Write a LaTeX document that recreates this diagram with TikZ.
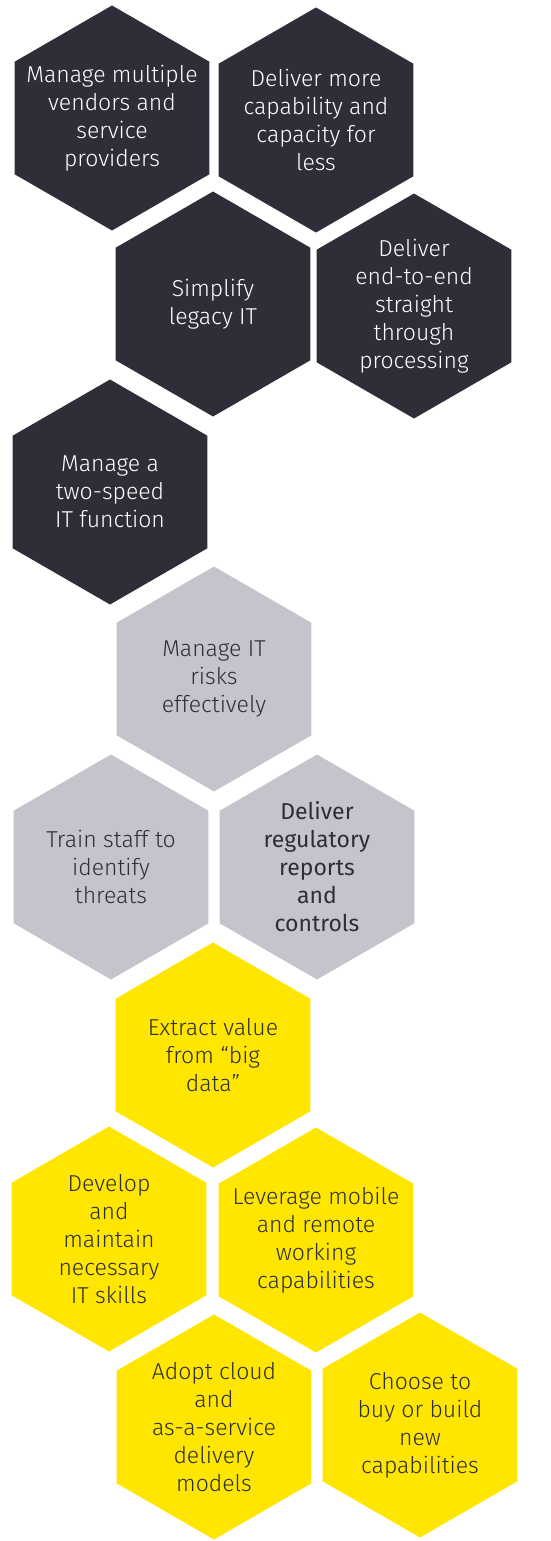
\documentclass[tikz,border=0pt]{standalone}
\usepackage{fontspec}
\setmainfont{Fira Sans}[UprightFont=* Light, BoldFont=*]
\usetikzlibrary{shapes.geometric}
\definecolor{eydark}{HTML}{2E2E38}
\definecolor{eygrey}{HTML}{C4C4CD}
\definecolor{eyyellow}{HTML}{FFE600}

\begin{document}
\begin{tikzpicture}[x=0.5pt,y=-0.5pt]
  \tikzset{
    hex/.style={regular polygon,regular polygon sides=6,shape border rotate=30,
      minimum size=112.5pt,inner sep=-18pt,align=center,
      font=\fontsize{11.5}{14}\selectfont},
    hexdark/.style={hex,fill=eydark,text=white},
    hexgrey/.style={hex,fill=eygrey,text=eydark},
    hexyellow/.style={hex,fill=eyyellow,text=eydark}
  }
    \useasboundingbox (0,0) rectangle (551,1541);

    %DARK
    \node[hexdark] (vendors) at (112,118) {Manage multiple\\vendors and\\service\\providers};
    \node[hexdark] (capacity) at (316,120) {Deliver more\\capability and\\capacity for\\less};
    \node[hexdark] (legacy) at (213,304) {Simplify\\legacy IT};
    \node[hexdark] (stp) at (414,306) {Deliver\\end-to-end\\straight\\through\\processing};
    \node[hexdark] (twospeed) at (110,492) {Manage a\\two-speed\\IT function};

    %GREY
    \node[hexgrey] (risks) at (214,679) {Manage IT\\risks\\effectively};
    \node[hexgrey] (train) at (111,867) {Train staff to\\identify\\threats};
    \node[hexgrey,font=\fontsize{11.5}{14}\selectfont\bfseries] (regulatory) at (317,867) {Deliver\\regulatory\\reports\\and\\controls};

    %YELLOW
    \node[hexyellow] (bigdata) at (213,1055) {Extract value\\from “big\\data”};
    \node[hexyellow] (skills) at (109,1239) {Develop\\and\\maintain\\necessary\\IT skills};
    \node[hexyellow] (mobile) at (316,1240) {Leverage mobile\\and remote\\working\\capabilities};
    \node[hexyellow] (cloud) at (214,1427) {Adopt cloud\\and\\as-a-service\\delivery\\models};
    \node[hexyellow] (buybuild) at (420,1425) {Choose to\\buy or build\\new\\capabilities};
\end{tikzpicture}
\end{document}
